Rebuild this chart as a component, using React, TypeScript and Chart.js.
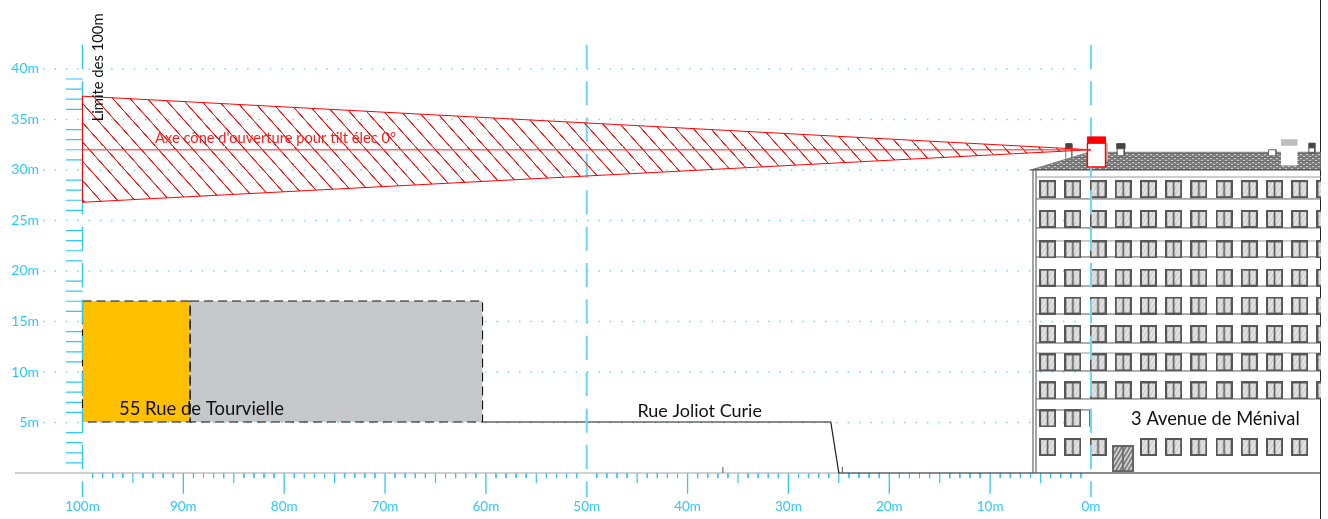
import React, { useEffect, useRef } from "react";
import { Chart, registerables } from "chart.js";

Chart.register(...registerables);

// ---- Values (metres) ----
const xTickValues = [100, 90, 80, 70, 60, 50, 40, 30, 20, 10, 0];
const yTickValues = [40, 35, 30, 25, 20, 15, 10, 5];
const xRulerMinor = [1,2,3,4,6,7,8,9,11,12,13,14,16,17,18,19,21,22,23,24,26,27,28,29,31,32,33,34,36,37,38,39,41,42,43,44,46,47,48,49,51,52,53,54,56,57,58,59,61,62,63,64,66,67,68,69,71,72,73,74,76,77,78,79,81,82,83,84,86,87,88,89,91,92,93,94,96,97,98,99];
const xRulerMid = [5, 15, 25, 35, 45, 55, 65, 75, 85, 95];
const xRulerMajor = [10, 20, 30, 40, 60, 70, 80, 90];
const yRuler = [39,38,37,36,34,33,32,31,29,28,27,26,24,23,22,21,19,18,17,16,14,13,12,11,9,8,7,6,4,3,2,1];
const dashedVerticals = [100, 50, 0];
const coneUpperEdge = [{ x: 100, y: 37.3 }, { x: 0, y: 32 }];
const coneLowerEdge = [{ x: 100, y: 26.8 }, { x: 0, y: 32 }];
const coneAxis = [{ x: 100, y: 32 }, { x: 0, y: 32 }];
const street = [{ x: 60.33, y: 5.05 }, { x: 25.8, y: 5.05 }, { x: 25, y: 0 }, { x: -22.7, y: 0 }];
const groundGrey = [{ x: 106.7, y: 0 }, { x: 25, y: 0 }];
const windowColumns = [4.3, 1.8, -0.7, -3.2, -5.7, -8.2, -10.7, -13.2, -15.7, -18.2, -20.7, -23.2];
const windowRows = [28.1, 25.15, 22.13, 19.34, 16.58, 13.76, 10.95, 8.17];
const windowRowMiddle = 5.4;
const windowRowMiddleColumns = [4.3, 1.8];
const windowRowGround = 2.57;
const windowRowGroundColumns = [4.3, 1.8, -0.7, -5.7, -8.2, -10.7, -13.2, -15.7, -18.2, -20.7];
const doorPoint = [{ x: -3.17, y: 1.43 }];
const floorLinesDark = [27.13, 24.26, 21.39, 18.51, 15.74, 12.87, 10.1, 7.33];
const floorLinesLight = [29.3, 22.97, 11.88];
const roofOutline = [{ x: 5.95, y: 30 }, { x: 0.2, y: 31.75 }, { x: -22.8, y: 31.75 }];

const labelLimit = "Limite des 100m";
const labelAxis = "Axe cône d'ouverture pour tilt élec 0°";
const labelNear = "55 Rue de Tourvielle";
const labelStreet = "Rue Joliot Curie";
const labelBuilding = "3 Avenue de Ménival";

// ---- Styles ----
const CYAN = "#2cc7fb";
const CYAN_PALE = "#6fd6fb";
const FONT = "Lato, 'Open Sans', sans-serif";

function makeCanvas(w: number, h: number) {
  const c = document.createElement("canvas");
  c.width = w;
  c.height = h;
  return c;
}

function windowGlyph(w: number, h: number, base: string, hatch: string, border: string) {
  const c = makeCanvas(w, h);
  const g = c.getContext("2d")!;
  g.fillStyle = base;
  g.fillRect(0, 0, w, h);
  g.save();
  g.strokeStyle = hatch;
  g.lineWidth = 1.4;
  for (let i = -h; i < w + h; i += 4) {
    g.beginPath();
    g.moveTo(i, h);
    g.lineTo(i + h * 0.6, 0);
    g.stroke();
  }
  g.restore();
  g.strokeStyle = border;
  g.lineWidth = 2;
  g.strokeRect(1, 1, w - 2, h - 2);
  g.lineWidth = 1.6;
  g.beginPath();
  g.moveTo(w / 2, 0);
  g.lineTo(w / 2, h);
  g.stroke();
  return c;
}

function roofPattern() {
  const c = makeCanvas(6, 4);
  const g = c.getContext("2d")!;
  g.fillStyle = "#7f7f7f";
  g.fillRect(0, 0, 6, 4);
  g.fillStyle = "#d0d0d0";
  g.fillRect(1, 0, 2, 1);
  g.fillRect(4, 2, 2, 1);
  g.fillStyle = "#696969";
  g.fillRect(0, 1, 6, 1);
  return document.createElement("canvas").getContext("2d")!.createPattern(c, "repeat")!;
}

function hatchPattern() {
  const w = 69;
  const h = 77;
  const c = makeCanvas(w, h);
  const g = c.getContext("2d")!;
  g.strokeStyle = "#ff1010";
  g.lineWidth = 4.4;
  for (const o of [-1, 0, 1]) {
    g.beginPath();
    g.moveTo(o * w, 0);
    g.lineTo(o * w + w, h);
    g.stroke();
  }
  const p = document.createElement("canvas").getContext("2d")!.createPattern(c, "repeat")!;
  p.setTransform(new DOMMatrix().translate(0, 11.3).scale(17.3 / w, 19.3 / h));
  return p;
}

// ---- Dataset helpers ----
const line = (data: any[], color: string, width = 1, dash: number[] = []) => ({
  data,
  borderColor: color,
  borderWidth: width,
  borderDash: dash,
  backgroundColor: "transparent",
  pointRadius: 0,
  fill: false,
  tension: 0,
  clip: false,
});

const area = (data: any[], toValue: number, color: any) => ({
  data,
  borderWidth: 0,
  borderColor: "transparent",
  backgroundColor: color,
  pointRadius: 0,
  fill: { value: toValue },
  tension: 0,
  clip: false,
});

const segments = (pairs: [any, any][]) => {
  const out: any[] = [];
  pairs.forEach(([a, b]) => out.push(a, b, { x: NaN, y: NaN }));
  return out;
};

const box = (x1: number, x2: number, top: number, bottom: number, fillColor: string | null, stroke: string | null, width = 1, dash: number[] = []) => {
  const res: any[] = [];
  if (fillColor) res.push(area([{ x: x1, y: top }, { x: x2, y: top }], bottom, fillColor));
  if (stroke)
    res.push(
      line(
        [{ x: x1, y: top }, { x: x2, y: top }, { x: x2, y: bottom }, { x: x1, y: bottom }, { x: x1, y: top }],
        stroke,
        width,
        dash
      )
    );
  return res;
};

const glyphs = (data: any[], glyph: HTMLCanvasElement) => ({
  data,
  showLine: false,
  pointStyle: glyph,
  pointRadius: 6,
  clip: false,
});

function buildDatasets() {
  const hatch = hatchPattern();
  const roof = roofPattern();
  const win = windowGlyph(17, 18, "#d2d2d2", "#ececec", "#575757");
  const door = windowGlyph(22, 27, "#7d7d7d", "#e8e8e8", "#666666");
  const sets: any[] = [];

  // dotted level lines
  yTickValues.forEach((v) => {
    const end = v === 30 ? 5.9 : 1;
    sets.push(line([{ x: 103.9, y: v }, { x: end, y: v }], CYAN_PALE, 1.5, [1.5, 9.83]));
  });

  // rulers
  sets.push(line(segments(xRulerMinor.map((v) => [{ x: v, y: 0 }, { x: v, y: -0.5 }])), CYAN, 1));
  sets.push(line(segments(xRulerMid.map((v) => [{ x: v, y: 0 }, { x: v, y: -1 }])), CYAN, 1.2));
  sets.push(line(segments(xRulerMajor.map((v) => [{ x: v, y: 0 }, { x: v, y: -2.05 }])), CYAN, 1.3));
  sets.push(line(segments(yRuler.map((v) => [{ x: 101.64, y: v }, { x: 100, y: v }])), CYAN, 1.2));

  // plots in front of the observer
  sets.push(...box(100, 89.33, 17.03, 5.05, "#ffc000", null));
  sets.push(...box(89.33, 60.33, 17.03, 5.05, "#c6c7c9", null));
  sets.push(...box(100, 89.33, 17.03, 5.05, null, "#111111", 1.1, [9, 5]));
  sets.push(...box(89.33, 60.33, 17.03, 5.05, null, "#111111", 1.1, [9, 5]));

  // ground and street
  sets.push(line(groundGrey, "#a2a2a2", 1.1));
  sets.push(line(street, "#1a1a1a", 1.2));
  sets.push(line(segments([[{ x: 36.5, y: 0 }, { x: 36.5, y: 0.6 }], [{ x: 24.65, y: 0 }, { x: 24.65, y: 0.6 }]]), "#555555", 1));
  sets.push(line([{ x: -22.8, y: 46.83 }, { x: -22.8, y: -4.55 }], "#000000", 1.5));

  // building
  sets.push(area(roofOutline, 30, roof));
  sets.push(line(roofOutline, "#7d7d7d", 1));
  sets.push(line([{ x: 6, y: 30 }, { x: -22.8, y: 30 }], "#555555", 1.2));
  floorLinesLight.forEach((v) => sets.push(line([{ x: 5.45, y: v }, { x: -22.8, y: v }], "#9a9a9a", 1)));
  floorLinesDark.forEach((v) => sets.push(line([{ x: 5.45, y: v }, { x: -22.8, y: v }], "#5c5c5c", 1)));
  sets.push(line([{ x: 5.45, y: 6.24 }, { x: 0.1, y: 6.24 }, { x: 0.1, y: 4.6 }], "#5c5c5c", 1));
  sets.push(line([{ x: 5.75, y: 30 }, { x: 5.75, y: 0 }], "#5c5c5c", 1.1));
  sets.push(line([{ x: 5.45, y: 30 }, { x: 5.45, y: 0 }], "#5c5c5c", 1.1));
  const windows: any[] = [];
  windowRows.forEach((y) => windowColumns.forEach((x) => windows.push({ x, y })));
  windowRowMiddleColumns.forEach((x) => windows.push({ x, y: windowRowMiddle }));
  windowRowGroundColumns.forEach((x) => windows.push({ x, y: windowRowGround }));
  sets.push(glyphs(windows, win));
  sets.push(glyphs(doorPoint, door));

  // roof furniture
  sets.push(...box(2.5, 1.9, 32.25, 31.0, null, "#777777", 1));
  sets.push(...box(2.5, 1.9, 32.6, 32.2, "#444444", "#444444", 1));
  sets.push(...box(-2.55, -3.35, 32.6, 32.1, "#444444", "#444444", 1));
  sets.push(...box(-2.6, -3.3, 32.1, 31.4, "#ffffff", "#555555", 1));
  sets.push(...box(-17.6, -18.35, 32.0, 31.4, "#ffffff", "#666666", 1));
  sets.push(...box(-21.6, -22.2, 32.65, 32.2, "#444444", "#444444", 1));
  sets.push(...box(-21.6, -22.2, 32.2, 31.7, null, "#555555", 1));
  sets.push(...box(-1.3, -1.75, 31.0, 30.7, "#444444", null));

  // cyan dashed verticals
  dashedVerticals.forEach((v) => {
    sets.push(line([{ x: v, y: 42.38 }, { x: v, y: -2.38 }], v === 100 ? CYAN : CYAN_PALE, v === 100 ? 1.4 : 2.1, [24.2, 12.16]));
  });

  // emitters on the roof
  sets.push(...box(-18.84, -20.5, 32.4, 30.43, "#ffffff", null));
  sets.push(...box(-18.84, -20.5, 33.03, 32.4, "#bdbdbd", null));
  sets.push(line([{ x: -1.6, y: 32.67 }, { x: -1.6, y: 30.8 }], "#f6a3a3", 1));
  sets.push(...box(0.35, -1.44, 32.67, 30.3, "#ffffff", "#ff0000", 1.4));
  sets.push(...box(0.35, -1.44, 33.27, 32.67, "#ff0000", "#ff0000", 1));

  // opening cone
  sets.push(area(coneUpperEdge, 32, hatch));
  sets.push(area(coneLowerEdge, 32, hatch));
  sets.push(line(coneUpperEdge, "#ff0000", 1));
  sets.push(line(coneLowerEdge, "#ff0000", 1));
  sets.push(line([coneUpperEdge[0], coneLowerEdge[0]], "#ff0000", 1));
  sets.push(line(coneAxis, "rgba(255,40,40,0.7)", 1.4));

  sets.forEach((s, i) => (s.order = -i));
  return sets;
}

const textPlugin = {
  id: "drawingText",
  afterDatasetsDraw(chart: any) {
    const { ctx, scales } = chart;
    const { x, y } = scales;
    const put = (t: string, xv: number, yv: number, size: number, color: string, rot = 0) => {
      ctx.save();
      ctx.translate(x.getPixelForValue(xv), y.getPixelForValue(yv));
      ctx.rotate(rot);
      ctx.font = `${size}px ${FONT}`;
      ctx.fillStyle = color;
      ctx.textAlign = "center";
      ctx.textBaseline = "middle";
      ctx.fillText(t, 0, 0);
      ctx.restore();
    };
    put(labelLimit, 98.4, 40.15, 14.8, "#111111", -Math.PI / 2);
    put(labelAxis, 80.86, 33.17, 14.7, "#ff1a1a");
    put(labelNear, 88.2, 6.34, 18.45, "#111111");
    put(labelStreet, 38.8, 6.14, 18, "#111111");
    put(labelBuilding, -12.34, 5.35, 18.3, "#111111");
  },
};

export default function App() {
  const ref = useRef<HTMLCanvasElement>(null);
  useEffect(() => {
    const chart = new Chart(ref.current!, {
      type: "line",
      data: { datasets: buildDatasets() },
      plugins: [textPlugin],
      options: {
        animation: false,
        responsive: false,
        devicePixelRatio: 1,
        layout: { padding: 0, autoPadding: false },
        plugins: { legend: { display: false }, tooltip: { enabled: false }, title: { display: false } },
        events: [],
        scales: {
          x: {
            type: "linear",
            reverse: true,
            min: -22.81,
            max: 108.18,
            position: { y: 0 },
            grid: { display: false, drawTicks: false },
            border: { display: false },
            afterBuildTicks: (axis: any) => {
              axis.ticks = xTickValues.map((value) => ({ value }));
            },
            ticks: {
              color: CYAN,
              autoSkip: false,
              maxRotation: 0,
              padding: 26,
              font: { family: FONT, size: 13.5 },
              callback: (v: any) => `${v}m`,
            },
          },
          y: {
            type: "linear",
            min: -3.72,
            max: 45.99,
            position: { x: 104.3 },
            grid: { display: false, drawTicks: false },
            border: { display: false },
            afterBuildTicks: (axis: any) => {
              axis.ticks = yTickValues.map((value) => ({ value }));
            },
            ticks: {
              color: CYAN,
              autoSkip: false,
              padding: 0,
              font: { family: FONT, size: 14 },
              callback: (v: any) => `${v}m`,
            },
          },
        },
      },
    } as any);
    return () => chart.destroy();
  }, []);
  return (
    <div style={{ position: "fixed", left: 0, top: 0, width: 1328, height: 519, background: "#fff" }}>
      <canvas ref={ref} width={1321} height={519} style={{ display: "block" }} />
    </div>
  );
}
